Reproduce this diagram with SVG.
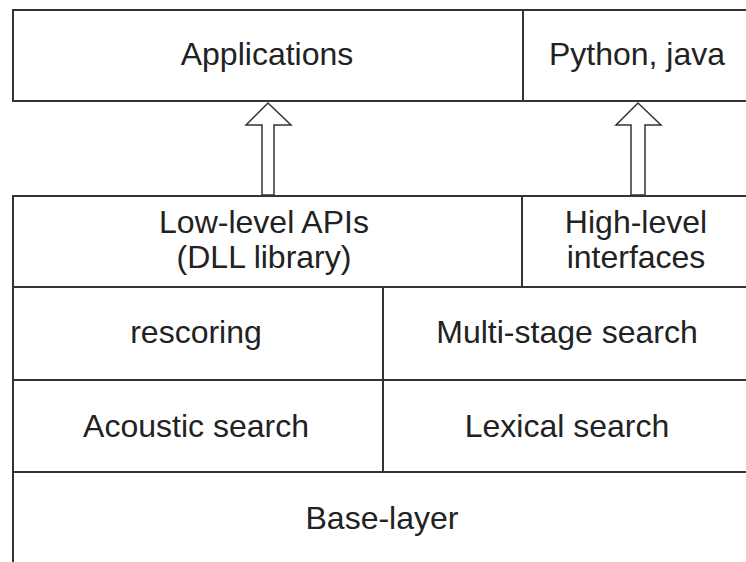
<svg xmlns="http://www.w3.org/2000/svg" width="746" height="562" viewBox="0 0 746 562">
<style>
.box{fill:#fff;stroke:#333;stroke-width:2}
.lbl{font-family:"Liberation Sans",Arial,sans-serif;font-size:32px;fill:#222;text-anchor:middle}
.arr{fill:#fff;stroke:#333;stroke-width:1.5;stroke-linejoin:miter}
</style>
<rect width="746" height="562" fill="#fff"/>
<g id="applications"><rect class="box" x="13" y="10" width="510" height="91"/><text class="lbl" x="267" y="65">Applications</text></g>
<g id="python-java"><rect class="box" x="523" y="10" width="240" height="91"/><text class="lbl" x="637" y="65">Python, java</text></g>
<g id="low-level"><rect class="box" x="13" y="196" width="509" height="91"/><text class="lbl" x="264" y="233">Low-level APIs</text><text class="lbl" x="264" y="268">(DLL library)</text></g>
<g id="high-level"><rect class="box" x="522" y="196" width="241" height="91"/><text class="lbl" x="636" y="233">High-level</text><text class="lbl" x="636" y="268">interfaces</text></g>
<g id="rescoring"><rect class="box" x="13" y="287" width="370" height="93"/><text class="lbl" x="196" y="343">rescoring</text></g>
<g id="multi-stage"><rect class="box" x="383" y="287" width="380" height="93"/><text class="lbl" x="567" y="343">Multi-stage search</text></g>
<g id="acoustic"><rect class="box" x="13" y="380" width="370" height="92"/><text class="lbl" x="196" y="437">Acoustic search</text></g>
<g id="lexical"><rect class="box" x="383" y="380" width="380" height="92"/><text class="lbl" x="567" y="437">Lexical search</text></g>
<g id="base-layer"><rect class="box" x="13" y="472" width="750" height="110"/><text class="lbl" x="382" y="529">Base-layer</text></g>
<g id="connectors">
<polygon class="arr" points="268,103 291,125 274,125 274,195 262,195 262,125 246,125"/>
<polygon class="arr" points="638,103 661,125 645,125 645,195 631,195 631,125 616,125"/>
</g>
</svg>
